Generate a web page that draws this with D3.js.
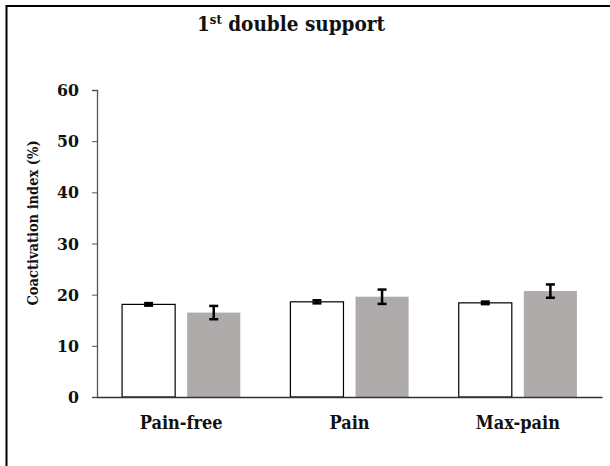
<!DOCTYPE html>
<html>
<head>
<meta charset="utf-8">
<script src="https://cdn.jsdelivr.net/npm/d3@7"></script>
<style>
  body { margin: 0; background: #fff; }
  svg { display: block; }
  text { font-family: "DejaVu Serif Condensed", "DejaVu Serif", serif; font-stretch: condensed; font-weight: bold; fill: #111; }
</style>
</head>
<body>
<svg id="chart" width="610" height="466"></svg>
<script>
// data
const categories = ["Pain-free", "Pain", "Max-pain"];
const series = ["white", "gray"];
const whiteMeans = [18.1, 18.6, 18.4];
const whiteErrs = [0.25, 0.3, 0.25];
const grayMeans = [16.5, 19.6, 20.7];
const grayErrs = [1.3, 1.4, 1.3];
const yTicks = [0, 10, 20, 30, 40, 50, 60];

const fills = { white: "#fff", gray: "#afabab" };
const font = "DejaVu Serif Condensed, DejaVu Serif, serif";

const svg = d3.select("#chart");
const margin = { left: 97, right: 8, top: 90, bottom: 69 };
const width = 610, height = 466;

// outer frame (runs off the right and bottom edge)
svg.append("rect")
  .attr("x", 6.5).attr("y", 6)
  .attr("width", 620).attr("height", 480)
  .attr("fill", "none").attr("stroke", "#000").attr("stroke-width", 2);

const x = d3.scaleBand().domain(categories)
  .range([margin.left, width - margin.right]);
const xs = d3.scaleBand().domain(series)
  .range([0, x.bandwidth()]).paddingInner(0.185).paddingOuter(0.385);
const y = d3.scaleLinear().domain([0, 60])
  .range([height - margin.bottom, margin.top]);

const rows = categories.map((c, i) => ({
  cat: c,
  vals: [
    { s: "white", v: whiteMeans[i], e: whiteErrs[i] },
    { s: "gray", v: grayMeans[i], e: grayErrs[i] }
  ]
}));

const g = svg.selectAll(".grp").data(rows).join("g")
  .attr("transform", d => `translate(${x(d.cat)},0)`);

g.selectAll("rect").data(d => d.vals).join("rect")
  .attr("x", d => xs(d.s))
  .attr("width", xs.bandwidth())
  .attr("y", d => y(d.v))
  .attr("height", d => y(0) - y(d.v))
  .attr("fill", d => fills[d.s])
  .attr("stroke", d => d.s === "white" ? "#000" : "none")
  .attr("stroke-width", 1.2);

// error bars
const eb = g.selectAll(".err").data(d => d.vals).join("g")
  .attr("stroke", "#000").attr("stroke-width", 2.5);
eb.append("line")
  .attr("x1", d => xs(d.s) + xs.bandwidth() / 2)
  .attr("x2", d => xs(d.s) + xs.bandwidth() / 2)
  .attr("y1", d => y(d.v + d.e)).attr("y2", d => y(d.v - d.e));
eb.selectAll(".cap").data(d => [[d, d.v + d.e], [d, d.v - d.e]]).join("line")
  .attr("x1", d => xs(d[0].s) + xs.bandwidth() / 2 - 4.5)
  .attr("x2", d => xs(d[0].s) + xs.bandwidth() / 2 + 4.5)
  .attr("y1", d => y(d[1])).attr("y2", d => y(d[1]));

// y axis
const yAxis = svg.append("g")
  .attr("transform", `translate(${margin.left},0)`)
  .call(d3.axisLeft(y).tickValues(yTicks).tickSize(5).tickPadding(13));
yAxis.select(".domain").attr("stroke", "#555").attr("stroke-width", 1.3);
yAxis.selectAll(".tick line").attr("stroke", "#555");
yAxis.selectAll("text").attr("font-size", 17.5).attr("fill", "#111")
  .attr("font-family", font).attr("font-weight", "bold");

// x axis
const xAxis = svg.append("g")
  .attr("transform", `translate(0,${y(0)})`)
  .call(d3.axisBottom(x).tickSize(0).tickPadding(19));
xAxis.select(".domain").attr("stroke", "#333").attr("stroke-width", 1.3);
xAxis.selectAll("text").attr("font-size", 18).attr("fill", "#111")
  .attr("font-family", font).attr("font-weight", "bold");

// axis title
svg.append("text")
  .attr("transform", `translate(38,223) rotate(-90)`)
  .attr("text-anchor", "middle")
  .attr("font-size", 14.5)
  .text("Coactivation index (%)");

// chart title
const title = svg.append("text")
  .attr("x", 291).attr("y", 31)
  .attr("text-anchor", "middle")
  .attr("font-size", 20.5);
title.append("tspan").text("1");
title.append("tspan").attr("dy", -7).attr("font-size", 13).text("st");
title.append("tspan").attr("dy", 7).text(" double support");
</script>
</body>
</html>
